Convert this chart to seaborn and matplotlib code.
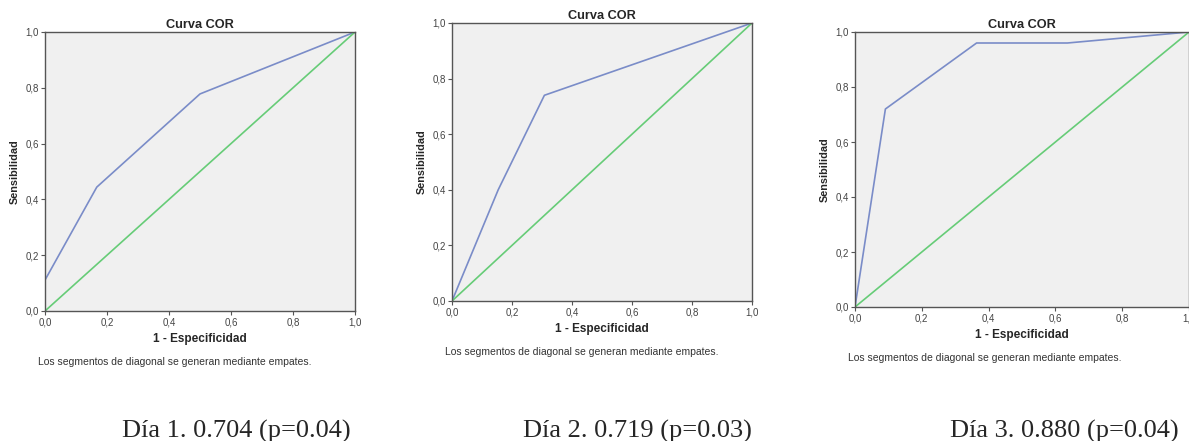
import matplotlib
matplotlib.use("Agg")
import matplotlib.pyplot as plt
import seaborn as sns
import pandas as pd

# ROC points (1 - especificidad, sensibilidad)
day1_fpr = [0.0, 0.0, 0.167, 0.5, 1.0]
day1_tpr = [0.0, 0.111, 0.444, 0.778, 1.0]
day2_fpr = [0.0, 0.154, 0.308, 1.0]
day2_tpr = [0.0, 0.40, 0.74, 1.0]
day3_fpr = [0.0, 0.091, 0.364, 0.636, 1.0]
day3_tpr = [0.0, 0.72, 0.96, 0.96, 1.0]
ref_line = [0.0, 1.0]

captions = ["Día 1. 0.704 (p=0.04)", "Día 2. 0.719 (p=0.03)", "Día 3. 0.880 (p=0.04)"]
ticks = [0.0, 0.2, 0.4, 0.6, 0.8, 1.0]
tick_labels = ["0,0", "0,2", "0,4", "0,6", "0,8", "1,0"]
footnote = "Los segmentos de diagonal se generan mediante empates."

sns.set_style("white", {"axes.facecolor": "#f0f0f0", "axes.edgecolor": "#555555"})
plt.rcParams["font.family"] = ["Liberation Sans", "DejaVu Sans"]

W, H = 1189, 441
fig = plt.figure(figsize=(W / 100, H / 100), dpi=100)

# pixel boxes of each plot area: left, top, right, bottom
boxes = [(45, 32, 355, 311), (452, 23, 752, 301), (855, 32, 1189, 307)]
foot_x = [38, 445, 848]
cap_x = [236, 637, 1064]
curves = [(day1_fpr, day1_tpr), (day2_fpr, day2_tpr), (day3_fpr, day3_tpr)]

for i, (box, (fpr, tpr)) in enumerate(zip(boxes, curves)):
    l, t, r, b = box
    ax = fig.add_axes([l / W, (H - b) / H, (r - l) / W, (b - t) / H])
    df = pd.DataFrame({"x": fpr, "y": tpr})
    sns.lineplot(data=df, x="x", y="y", ax=ax, color="#7a8cc8", lw=1.2,
                 sort=False, estimator=None)
    sns.lineplot(x=ref_line, y=ref_line, ax=ax, color="#66cc77", lw=1.2)
    ax.set_xlim(0, 1)
    ax.set_ylim(0, 1)
    ax.set_xticks(ticks)
    ax.set_yticks(ticks)
    ax.set_xticklabels(tick_labels, fontsize=7, color="#444444")
    ax.set_yticklabels(tick_labels, fontsize=7, color="#444444")
    ax.tick_params(length=3, width=0.8, color="#555555", pad=1.5, bottom=True, left=True)
    for s in ax.spines.values():
        s.set_linewidth(1.0)
    ax.set_title("Curva COR", fontsize=9.2, fontweight="bold", pad=3)
    ax.set_xlabel("1 - Especificidad", fontsize=8.5, fontweight="bold", labelpad=4)
    ax.set_ylabel("Sensibilidad", fontsize=7.8, fontweight="bold", labelpad=4)
    fig.text(foot_x[i] / W, 1 - (b + 51) / H, footnote, fontsize=7.5,
             color="#333333", va="center", ha="left")
    fig.text(cap_x[i] / W, 1 - 431 / H, captions[i], fontsize=19,
             family="Liberation Serif", va="center", ha="center")

fig.savefig("out.png", dpi=100)
